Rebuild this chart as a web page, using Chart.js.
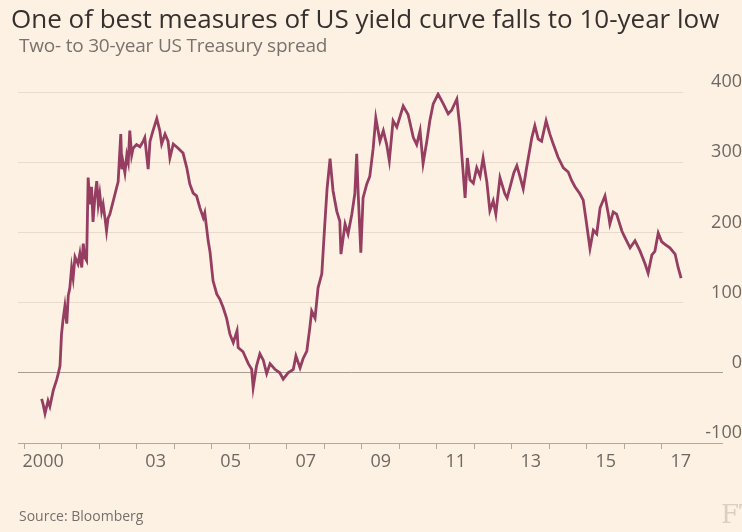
<!DOCTYPE html>
<html>
<head>
<meta charset="utf-8">
<script src="https://cdn.jsdelivr.net/npm/chart.js@4"></script>
<style>
  html, body { margin: 0; padding: 0; background: #fdf1e3; }
  #wrap { position: relative; width: 742px; height: 532px; overflow: hidden; }
  #chart { position: absolute; left: 0; top: 0; }
  .txt { position: absolute; white-space: nowrap; font-family: "Open Sans", sans-serif; }
  #title { left: 11px; top: 1px; font-size: 26px; line-height: 34px; color: #36312e; }
  #subtitle { left: 19px; top: 34px; font-size: 19px; line-height: 23px; color: #7a726c; letter-spacing: -0.2px; }
  #source { left: 19px; top: 507px; font-size: 14px; line-height: 18px; color: #77706a; }
  #logo { left: 721px; top: 499px; font-size: 26px; line-height: 30px; color: #d9cfc4; font-family: "DejaVu Serif", serif; }
</style>
</head>
<body>
<div id="wrap">
  <canvas id="chart" width="742" height="532"></canvas>
  <div class="txt" id="title">One of best measures of US yield curve falls to 10-year low</div>
  <div class="txt" id="subtitle">Two- to 30-year US Treasury spread</div>
  <div class="txt" id="source">Source: Bloomberg</div>
  <div class="txt" id="logo">FT</div>
</div>
<script>
// decimal years
var dates = [
  2000.46, 2000.50, 2000.55, 2000.63, 2000.68, 2000.77, 2000.86, 2000.90, 2000.95, 2000.99,
  2001.03, 2001.08, 2001.13, 2001.17, 2001.21, 2001.26, 2001.30, 2001.35, 2001.43, 2001.48,
  2001.53, 2001.57, 2001.61, 2001.66, 2001.70, 2001.75, 2001.79, 2001.83, 2001.88, 2001.93,
  2001.97, 2002.01, 2002.06, 2002.10, 2002.15, 2002.19, 2002.23, 2002.28, 2002.37, 2002.46,
  2002.50, 2002.57, 2002.60, 2002.63, 2002.68, 2002.73, 2002.77, 2002.81, 2002.86, 2002.90,
  2002.99, 2003.08, 2003.17, 2003.21, 2003.30, 2003.35, 2003.43, 2003.53, 2003.61, 2003.66,
  2003.75, 2003.83, 2003.88, 2003.97, 2004.10, 2004.23, 2004.33, 2004.41, 2004.50, 2004.59,
  2004.68, 2004.77, 2004.81, 2004.90, 2004.95, 2005.03, 2005.13, 2005.21, 2005.30, 2005.39,
  2005.48, 2005.57, 2005.67, 2005.70, 2005.83, 2005.97, 2006.06, 2006.10, 2006.19, 2006.28,
  2006.37, 2006.46, 2006.55, 2006.63, 2006.68, 2006.81, 2006.90, 2007.03, 2007.17, 2007.24,
  2007.35, 2007.43, 2007.53, 2007.61, 2007.66, 2007.75, 2007.83, 2007.93, 2008.01, 2008.07,
  2008.15, 2008.23, 2008.33, 2008.41, 2008.44, 2008.55, 2008.63, 2008.73, 2008.81, 2008.86,
  2008.90, 2008.97, 2009.03, 2009.13, 2009.21, 2009.30, 2009.37, 2009.48, 2009.57, 2009.66,
  2009.73, 2009.83, 2009.93, 2010.10, 2010.23, 2010.37, 2010.46, 2010.55, 2010.63, 2010.73,
  2010.81, 2010.90, 2011.03, 2011.17, 2011.30, 2011.39, 2011.53, 2011.61, 2011.66, 2011.75,
  2011.81, 2011.88, 2011.97, 2012.06, 2012.15, 2012.23, 2012.33, 2012.41, 2012.50, 2012.57,
  2012.68, 2012.81, 2012.87, 2012.95, 2013.05, 2013.13, 2013.21, 2013.30, 2013.39, 2013.53,
  2013.61, 2013.70, 2013.79, 2013.91, 2014.01, 2014.10, 2014.23, 2014.37, 2014.50, 2014.59,
  2014.68, 2014.81, 2014.90, 2014.99, 2015.08, 2015.17, 2015.26, 2015.35, 2015.48, 2015.57,
  2015.61, 2015.70, 2015.79, 2015.93, 2016.01, 2016.15, 2016.28, 2016.41, 2016.55, 2016.63,
  2016.73, 2016.81, 2016.90, 2016.99, 2017.08, 2017.21, 2017.35, 2017.43, 2017.51
];

// 2s30s spread, basis points
var spread = [
  -37, -45, -58, -40, -48, -25, -10, -2, 10, 55,
  75, 95, 70, 110, 120, 150, 135, 165, 155, 170,
  150, 184, 165, 160, 278, 240, 265, 215, 250, 273,
  240, 255, 230, 240, 220, 202, 220, 226, 245, 264,
  272, 340, 290, 300, 285, 310, 300, 345, 310, 320,
  325, 322, 330, 335, 290, 330, 345, 362, 345, 326,
  340, 330, 306, 326, 320, 313, 292, 269, 256, 252,
  235, 221, 228, 188, 172, 131, 112, 105, 93, 78,
  55, 43, 60, 36, 30, 13, 5, -21, 10, 27,
  18, -1, 13, 8, 5, 0, -9, 0, 5, 24,
  7, 20, 31, 64, 88, 78, 121, 141, 212, 262,
  305, 259, 230, 216, 169, 212, 198, 226, 255, 312,
  255, 171, 249, 269, 280, 320, 363, 330, 345, 325,
  302, 359, 350, 380, 368, 335, 325, 345, 298, 330,
  359, 383, 397, 383, 369, 374, 390, 350, 312, 249,
  306, 275, 270, 292, 280, 306, 272, 231, 245, 226,
  278, 255, 249, 265, 285, 295, 280, 262, 292, 335,
  352, 333, 330, 359, 340, 326, 307, 292, 286, 274,
  265, 255, 246, 212, 177, 203, 198, 235, 252, 226,
  212, 229, 226, 202, 193, 178, 188, 174, 155, 142,
  168, 173, 199, 187, 183, 178, 169, 150, 135
];

var yTicks = [-100, 0, 100, 200, 300, 400];
var xYears = [2000, 2001, 2002, 2003, 2004, 2005, 2006, 2007, 2008,
              2009, 2010, 2011, 2012, 2013, 2014, 2015, 2016, 2017];

var points = dates.map(function (d, i) { return { x: d, y: spread[i] }; });

var gridCol = '#e9dbcb',
    axisCol = '#b3a89d',
    zeroCol = '#a89d92',
    tickCol = '#6f6862';

new Chart(document.getElementById('chart').getContext('2d'), {
  type: 'line',
  data: {
    datasets: [{
      data: points,
      borderColor: '#963d62',
      borderWidth: 2.8,
      pointRadius: 0,
      tension: 0,
      fill: false
    }]
  },
  options: {
    responsive: false,
    animation: false,
    layout: { padding: { left: 18, top: 92, right: 0, bottom: 49 } },
    plugins: { legend: { display: false }, tooltip: { enabled: false } },
    scales: {
      x: {
        type: 'linear',
        min: 1999.83,
        max: 2017.56,
        afterBuildTicks: function (scale) {
          scale.ticks = xYears.map(function (v) { return { value: v }; });
        },
        afterFit: function (scale) { scale.height = 40; },
        grid: {
          drawOnChartArea: false,
          tickLength: 6,
          color: axisCol
        },
        border: { display: true, color: axisCol },
        ticks: {
          autoSkip: false,
          maxRotation: 0,
          labelOffset: 18.75,
          padding: 2,
          color: tickCol,
          font: { family: 'Open Sans', size: 18 },
          callback: function (v) {
            if (v === 2000) return '2000';
            if (v >= 2003 && v % 2 === 1) return String(v).slice(2);
            return '';
          }
        }
      },
      y: {
        position: 'right',
        min: -100,
        max: 400,
        afterBuildTicks: function (scale) {
          scale.ticks = yTicks.map(function (v) { return { value: v }; });
        },
        afterFit: function (scale) { scale.width = 59; },
        border: { display: false },
        grid: {
          tickLength: 40,
          color: function (c) {
            if (c.tick.value === 0) return zeroCol;
            if (c.tick.value === -100) return axisCol;
            return gridCol;
          },
          tickColor: function (c) {
            if (c.tick.value === 0) return zeroCol;
            if (c.tick.value === -100) return axisCol;
            return 'rgba(0,0,0,0)';
          }
        },
        ticks: {
          crossAlign: 'far',
          padding: -38,
          labelOffset: -10,
          color: tickCol,
          font: { family: 'Open Sans', size: 18 }
        }
      }
    }
  }
});
</script>
</body>
</html>
